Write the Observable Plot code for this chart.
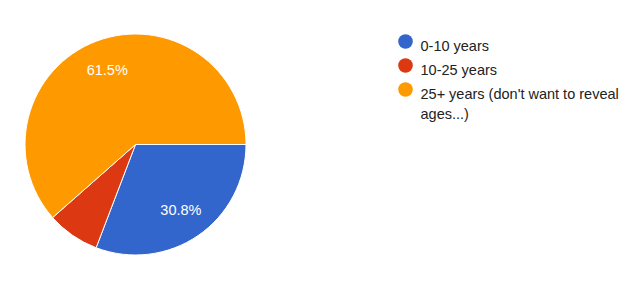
<!DOCTYPE html>
<html><head><meta charset="utf-8">
<script src="https://cdn.jsdelivr.net/npm/d3@7"></script>
<script src="https://cdn.jsdelivr.net/npm/@observablehq/plot@0.6"></script>
<style>html,body{margin:0;padding:0;background:#fff;}</style>
</head><body><div id="chart"></div>
<script>
const categories = ["0-10 years", "10-25 years", "25+ years (don't want to reveal ages...)"];
const percents = [30.8, 7.7, 61.5];
const colors = ["#3366cc", "#dc3912", "#ff9900"];
const rows = categories.map((c, i) => ({category: c, value: percents[i]}));

const W = 640, H = 293;
const cx = 135.5, cy = 144.5, R = 110.5, labelR = 80;
const font = "'Liberation Sans', Arial, sans-serif";

function pieMark(index, scales) {
  const color = scales.color ?? (c => colors[categories.indexOf(c)]);
  const pie = d3.pie().value(d => d.value).sort(null)
    .startAngle(Math.PI / 2).endAngle(Math.PI / 2 + 2 * Math.PI);
  const arcs = pie(rows);
  const arc = d3.arc().innerRadius(0).outerRadius(R);
  const labelArc = d3.arc().innerRadius(labelR).outerRadius(labelR);
  const g = d3.create("svg:g").attr("transform", `translate(${cx},${cy})`);
  g.selectAll("path").data(arcs).join("path")
    .attr("d", arc)
    .attr("fill", d => color(d.data.category))
    .attr("stroke", "#fff").attr("stroke-width", 1);
  g.selectAll("text").data(arcs.filter(d => d.data.value >= 10)).join("text")
    .attr("transform", d => `translate(${labelArc.centroid(d)})`)
    .attr("text-anchor", "middle").attr("dy", "0.35em")
    .attr("fill", "#fff").attr("font-size", 14.5).attr("font-family", font)
    .text(d => d.data.value.toFixed(1) + "%");
  return g.node();
}

const chart = Plot.plot({
  width: W, height: H, margin: 0,
  style: {fontFamily: font, background: "#fff"},
  x: {domain: [0, W], range: [0, W], axis: null},
  y: {type: "point", domain: categories, range: [40.7, 88.7], padding: 0, axis: null},
  color: {domain: categories, range: colors},
  marks: [
    pieMark,
    Plot.dot(rows, {x: () => 405, y: "category", fill: "category", r: 7.3}),
    Plot.text(rows, {x: () => 420, y: "category", text: "category", textAnchor: "start",
      lineAnchor: "top", dy: -5.2, lineWidth: 16, lineHeight: 1.38,
      fill: "#222", fontSize: 14.5})
  ]
});
document.getElementById("chart").appendChild(chart);
</script>
</body></html>
